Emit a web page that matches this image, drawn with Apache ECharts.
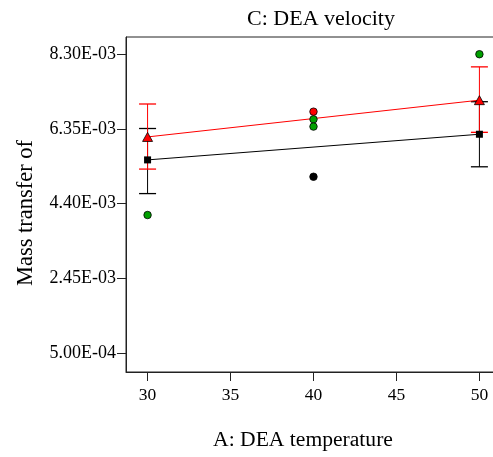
<!DOCTYPE html>
<html>
<head>
<meta charset="utf-8">
<script src="https://cdn.jsdelivr.net/npm/echarts@6/dist/echarts.min.js"></script>
<style>html,body{margin:0;padding:0;background:#fff;overflow:hidden}#c{width:493px;height:457px}</style>
</head>
<body>
<div id="c"></div>
<script>
// ---- data ----
const xTicks = [30, 35, 40, 45, 50];
const yTicks = [0.0005, 0.00245, 0.0044, 0.00635, 0.0083];
const lineX = [30, 50];
const blackPred = [0.00554, 0.00621];
const redPred = [0.00614, 0.00710];
const blackLow = [0.00466, 0.00536];
const blackHigh = [0.00636, 0.00706];
const redLow = [0.00530, 0.00626];
const redHigh = [0.00700, 0.00797];
const greenX = [30, 40, 40, 50];
const greenY = [0.00410, 0.00660, 0.00641, 0.00830];
const redPtX = [40];
const redPtY = [0.00680];
const blackPtX = [40];
const blackPtY = [0.00510];
const titleText = 'C: DEA velocity';
const xName = 'A: DEA temperature';
const yName = 'Mass transfer of';

const FONT = '"Liberation Serif", "Times New Roman", serif';
const zip = (a, b) => a.map((v, i) => [v, b[i]]);

function fmtE(v) {
  const s = v.toExponential(2).toUpperCase();
  const m = s.split('E');
  const exp = parseInt(m[1], 10);
  const sign = exp < 0 ? '-' : '+';
  const e = String(Math.abs(exp)).padStart(2, '0');
  return m[0] + 'E' + sign + e;
}

function errBar(color) {
  return function (params, api) {
    const x = api.value(0);
    const lo = api.coord([x, api.value(1)]);
    const hi = api.coord([x, api.value(2)]);
    const hw = 8.5;
    const style = { stroke: color, lineWidth: 1 };
    const capStyle = { stroke: color, lineWidth: 1.3 };
    return {
      type: 'group',
      children: [
        { type: 'line', shape: { x1: lo[0], y1: lo[1], x2: hi[0], y2: hi[1] }, style: style },
        { type: 'line', shape: { x1: lo[0] - hw, y1: lo[1], x2: lo[0] + hw, y2: lo[1] }, style: capStyle },
        { type: 'line', shape: { x1: hi[0] - hw, y1: hi[1], x2: hi[0] + hw, y2: hi[1] }, style: capStyle }
      ]
    };
  };
}

const chart = echarts.init(document.getElementById('c'), null, { renderer: 'canvas' });
chart.setOption({
  animation: false,
  backgroundColor: '#fff',
  textStyle: { fontFamily: FONT },
  grid: { left: 126, top: 37, width: 370, height: 335, outerBoundsMode: 'none', containLabel: false,
          show: true, borderColor: '#222', borderWidth: 1, backgroundColor: 'transparent' },
  xAxis: {
    type: 'value', min: 28.7, max: 51.0,
    axisLine: { show: true, onZero: false, lineStyle: { color: '#222', width: 1 } },
    axisTick: { show: true, inside: false, length: 9, customValues: xTicks, lineStyle: { color: '#222' } },
    axisLabel: { customValues: xTicks, color: '#000', fontFamily: FONT, fontSize: 17.5, margin: 14 },
    splitLine: { show: false }
  },
  yAxis: {
    type: 'value', min: 0, max: 0.00875,
    axisLine: { show: true, onZero: false, lineStyle: { color: '#222', width: 1 } },
    axisTick: { show: true, inside: false, length: 9, customValues: yTicks, lineStyle: { color: '#222' } },
    axisLabel: { customValues: yTicks, color: '#000', fontFamily: FONT, fontSize: 18, margin: 10, formatter: fmtE },
    splitLine: { show: false }
  },
  graphic: [
    { type: 'text', x: 321, y: 19, style: { text: titleText, font: '22px ' + FONT, fill: '#000', textAlign: 'center', textVerticalAlign: 'middle' } },
    { type: 'text', x: 303, y: 440, style: { text: xName, font: '21.6px ' + FONT, fill: '#000', textAlign: 'center', textVerticalAlign: 'middle' } },
    { type: 'text', x: 26, y: 213, rotation: Math.PI / 2, style: { text: yName, font: '22.5px ' + FONT, fill: '#000', textAlign: 'center', textVerticalAlign: 'middle' } }
  ],
  series: [
    { type: 'custom', renderItem: errBar('#000'), data: lineX.map((x, i) => [x, blackLow[i], blackHigh[i]]), z: 2, silent: true },
    { type: 'custom', renderItem: errBar('#ff0000'), data: lineX.map((x, i) => [x, redLow[i], redHigh[i]]), z: 3, silent: true },
    { type: 'line', data: zip(lineX, blackPred), z: 4, symbol: 'rect', symbolSize: 7, showSymbol: true,
      lineStyle: { color: '#000', width: 1 }, itemStyle: { color: '#000' } },
    { type: 'line', data: zip(lineX, redPred), z: 5, symbol: 'triangle', symbolSize: [10, 9], showSymbol: true,
      lineStyle: { color: '#ff0000', width: 1 }, itemStyle: { color: '#ff0000', borderColor: '#000', borderWidth: 0.8 } },
    { type: 'scatter', data: zip(greenX, greenY), z: 6, symbol: 'circle', symbolSize: 7.5,
      itemStyle: { color: '#00a000', borderColor: '#000', borderWidth: 0.8, opacity: 1 } },
    { type: 'scatter', data: zip(redPtX, redPtY), z: 6, symbol: 'circle', symbolSize: 7.5,
      itemStyle: { color: '#ff0000', borderColor: '#000', borderWidth: 0.8, opacity: 1 } },
    { type: 'scatter', data: zip(blackPtX, blackPtY), z: 6, symbol: 'circle', symbolSize: 7.5,
      itemStyle: { color: '#000', borderColor: '#000', borderWidth: 0.8, opacity: 1 } }
  ]
});
</script>
</body>
</html>
